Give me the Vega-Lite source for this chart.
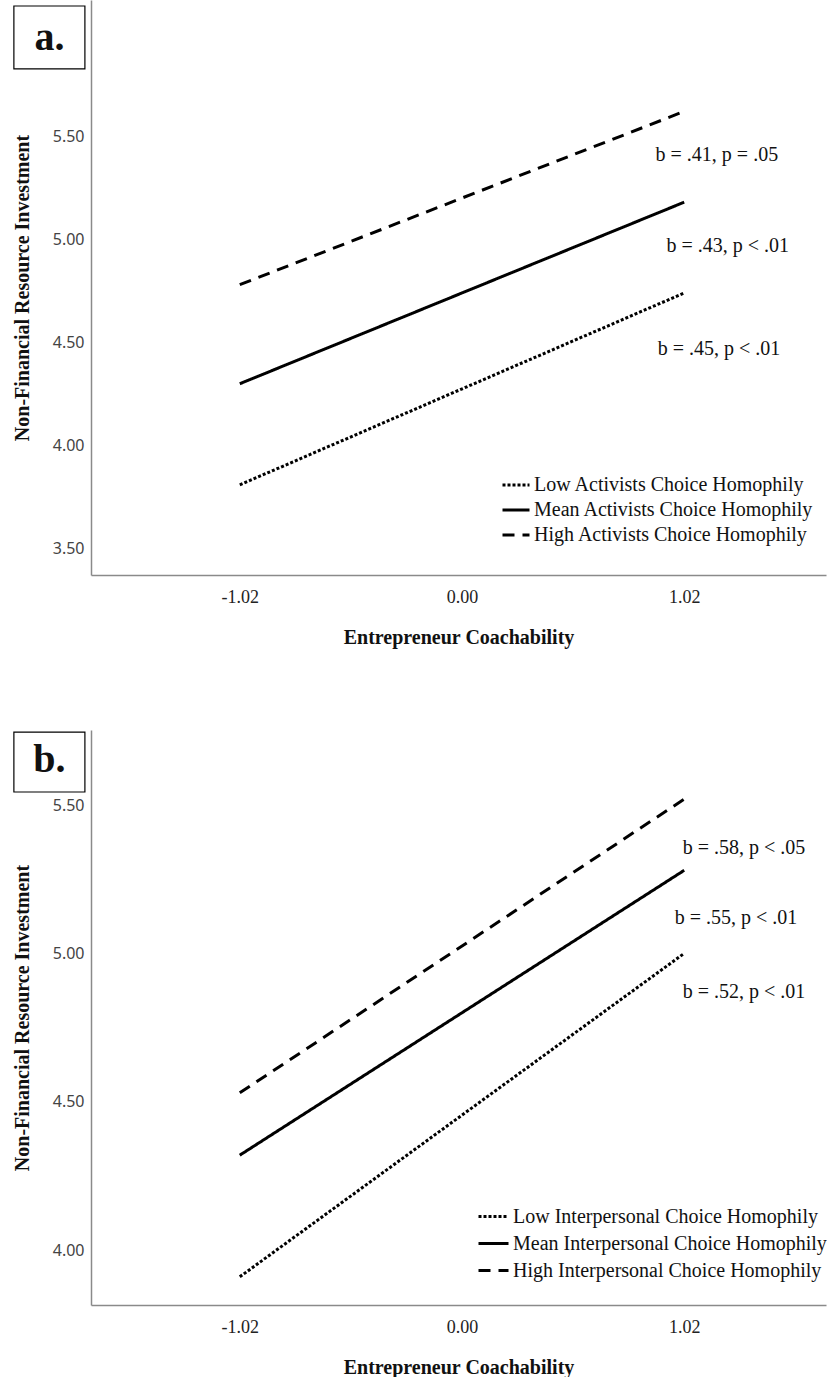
{
  "$schema": "https://vega.github.io/schema/vega-lite/v6.json",
  "padding": {"left": 12, "top": 0, "right": 0, "bottom": 0},
  "background": "white",
  "bounds": "flush",
  "spacing": 155,
  "config": {
    "view": {"stroke": null},
    "axis": {
      "grid": false,
      "ticks": false,
      "domainColor": "#8a8a8a",
      "domainWidth": 1.5,
      "titleFont": "Liberation Serif",
      "titleFontWeight": "bold",
      "titleFontSize": 20,
      "titleColor": "#111"
    },
    "axisY": {
      "labelFont": "Noto Sans",
      "labelFontSize": 16,
      "labelColor": "#444",
      "labelPadding": 7,
      "titlePadding": 20
    },
    "axisX": {
      "labelFont": "Liberation Serif",
      "labelFontSize": 18,
      "labelColor": "#222",
      "labelPadding": 13,
      "titlePadding": 21
    },
    "legend": {
      "title": null,
      "orient": "none",
      "symbolType": "stroke",
      "symbolSize": 729,
      "symbolStrokeWidth": 3,
      "symbolStrokeColor": "black",
      "labelFont": "Liberation Serif",
      "labelFontSize": 20,
      "labelColor": "#111",
      "labelOffset": 3,
      "rowPadding": -3,
      "labelLimit": 500
    }
  },
  "datasets": {
    "linesA": [
      {"coach": -1.02, "value": 3.81, "group": "Low Activists Choice Homophily"},
      {"coach": 1.02, "value": 4.74, "group": "Low Activists Choice Homophily"},
      {"coach": -1.02, "value": 4.30, "group": "Mean Activists Choice Homophily"},
      {"coach": 1.02, "value": 5.18, "group": "Mean Activists Choice Homophily"},
      {"coach": -1.02, "value": 4.78, "group": "High Activists Choice Homophily"},
      {"coach": 1.02, "value": 5.62, "group": "High Activists Choice Homophily"}
    ],
    "notesA": [
      {"coach": 1.17, "value": 5.41, "text": "b = .41, p = .05"},
      {"coach": 1.22, "value": 4.97, "text": "b = .43, p < .01"},
      {"coach": 1.18, "value": 4.47, "text": "b = .45, p < .01"}
    ],
    "tagA": [
      {"x1": -2.057, "x2": -1.731, "y1": 6.131, "y2": 5.826, "tx": -1.894, "ty": 5.976, "tag": "a."}
    ],
    "linesB": [
      {"coach": -1.02, "value": 3.91, "group": "Low Interpersonal Choice Homophily"},
      {"coach": 1.02, "value": 5.0, "group": "Low Interpersonal Choice Homophily"},
      {"coach": -1.02, "value": 4.32, "group": "Mean Interpersonal Choice Homophily"},
      {"coach": 1.02, "value": 5.28, "group": "Mean Interpersonal Choice Homophily"},
      {"coach": -1.02, "value": 4.53, "group": "High Interpersonal Choice Homophily"},
      {"coach": 1.02, "value": 5.52, "group": "High Interpersonal Choice Homophily"}
    ],
    "notesB": [
      {"coach": 1.295, "value": 5.355, "text": "b = .58, p < .05"},
      {"coach": 1.258, "value": 5.12, "text": "b = .55, p < .01"},
      {"coach": 1.295, "value": 4.87, "text": "b = .52, p < .01"}
    ],
    "tagB": [
      {"x1": -2.057, "x2": -1.731, "y1": 5.746, "y2": 5.544, "tx": -1.894, "ty": 5.652, "tag": "b."}
    ]
  },
  "vconcat": [
    {
      "width": 735,
      "height": 575,
      "layer": [
        {
          "data": {"name": "linesA"},
          "mark": {"type": "line", "strokeWidth": 3, "color": "black", "strokeCap": "butt"},
          "encoding": {
            "x": {
              "field": "coach", "type": "quantitative",
              "scale": {"domain": [-1.703, 1.671], "nice": false, "zero": false},
              "axis": {
                "title": "Entrepreneur Coachability",
                "values": [-1.02, 0, 1.02],
                "labelExpr": "datum.value < 0 ? '-' + format(-datum.value, '.2f') : format(datum.value, '.2f')"
              }
            },
            "y": {
              "field": "value", "type": "quantitative",
              "scale": {"domain": [3.373, 6.16], "nice": false, "zero": false},
              "axis": {
                "title": "Non-Financial Resource Investment",
                "values": [3.5, 4, 4.5, 5, 5.5],
                "format": ".2f"
              }
            },
            "strokeDash": {
              "field": "group", "type": "nominal",
              "scale": {
                "domain": ["Low Activists Choice Homophily", "Mean Activists Choice Homophily", "High Activists Choice Homophily"],
                "range": [[3, 2], [1, 0], [12, 8]]
              },
              "legend": {"legendX": 410, "legendY": 470}
            }
          }
        },
        {
          "data": {"name": "notesA"},
          "mark": {"type": "text", "font": "Liberation Serif", "fontSize": 20, "color": "#111", "align": "center", "baseline": "middle"},
          "encoding": {
            "x": {"field": "coach", "type": "quantitative"},
            "y": {"field": "value", "type": "quantitative"},
            "text": {"field": "text"}
          }
        },
        {
          "data": {"name": "tagA"},
          "mark": {"type": "rect", "fill": "white", "stroke": "black", "strokeWidth": 1.2},
          "encoding": {
            "x": {"field": "x1", "type": "quantitative"},
            "x2": {"field": "x2"},
            "y": {"field": "y1", "type": "quantitative"},
            "y2": {"field": "y2"}
          }
        },
        {
          "data": {"name": "tagA"},
          "mark": {"type": "text", "font": "Liberation Serif", "fontSize": 40, "fontWeight": "bold", "color": "#111", "align": "center", "baseline": "middle"},
          "encoding": {
            "x": {"field": "tx", "type": "quantitative"},
            "y": {"field": "ty", "type": "quantitative"},
            "text": {"field": "tag"}
          }
        }
      ]
    },
    {
      "width": 735,
      "height": 575,
      "layer": [
        {
          "data": {"name": "linesB"},
          "mark": {"type": "line", "strokeWidth": 3, "color": "black", "strokeCap": "butt"},
          "encoding": {
            "x": {
              "field": "coach", "type": "quantitative",
              "scale": {"domain": [-1.703, 1.671], "nice": false, "zero": false},
              "axis": {
                "title": "Entrepreneur Coachability",
                "values": [-1.02, 0, 1.02],
                "labelExpr": "datum.value < 0 ? '-' + format(-datum.value, '.2f') : format(datum.value, '.2f')"
              }
            },
            "y": {
              "field": "value", "type": "quantitative",
              "scale": {"domain": [3.815, 5.753], "nice": false, "zero": false},
              "axis": {
                "title": "Non-Financial Resource Investment",
                "values": [4, 4.5, 5, 5.5],
                "format": ".2f"
              }
            },
            "strokeDash": {
              "field": "group", "type": "nominal",
              "scale": {
                "domain": ["Low Interpersonal Choice Homophily", "Mean Interpersonal Choice Homophily", "High Interpersonal Choice Homophily"],
                "range": [[3, 2], [1, 0], [12, 8]]
              },
              "legend": {"legendX": 386, "legendY": 470, "symbolSize": 900, "rowPadding": -9}
            }
          }
        },
        {
          "data": {"name": "notesB"},
          "mark": {"type": "text", "font": "Liberation Serif", "fontSize": 20, "color": "#111", "align": "center", "baseline": "middle"},
          "encoding": {
            "x": {"field": "coach", "type": "quantitative"},
            "y": {"field": "value", "type": "quantitative"},
            "text": {"field": "text"}
          }
        },
        {
          "data": {"name": "tagB"},
          "mark": {"type": "rect", "fill": "white", "stroke": "black", "strokeWidth": 1.2},
          "encoding": {
            "x": {"field": "x1", "type": "quantitative"},
            "x2": {"field": "x2"},
            "y": {"field": "y1", "type": "quantitative"},
            "y2": {"field": "y2"}
          }
        },
        {
          "data": {"name": "tagB"},
          "mark": {"type": "text", "font": "Liberation Serif", "fontSize": 40, "fontWeight": "bold", "color": "#111", "align": "center", "baseline": "middle"},
          "encoding": {
            "x": {"field": "tx", "type": "quantitative"},
            "y": {"field": "ty", "type": "quantitative"},
            "text": {"field": "tag"}
          }
        }
      ]
    }
  ],
  "resolve": {"scale": {"strokeDash": "independent", "x": "independent", "y": "independent"}}
}
